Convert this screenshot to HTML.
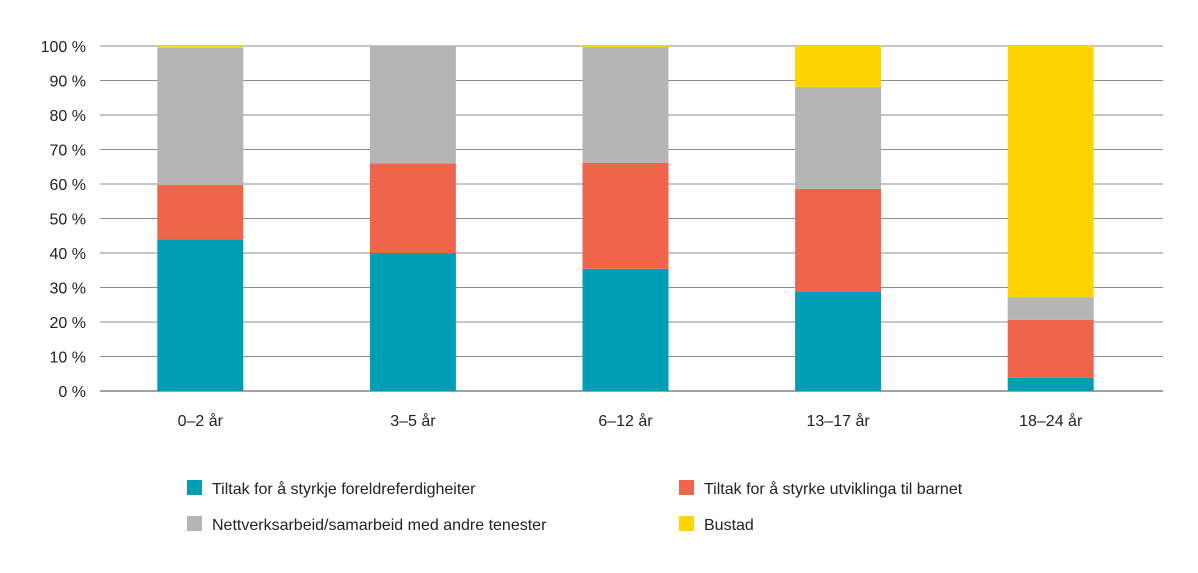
<!DOCTYPE html>
<html><head><meta charset="utf-8"><style>
body{margin:0;background:#fff;font-family:"Liberation Sans",sans-serif;}
svg text{font-family:"Liberation Sans",sans-serif;font-size:16px;fill:#222;}
</style></head><body>
<svg width="1198" height="568">
<g id="grid"></g>
<g id="bars"></g>
<g id="axes"></g>
<g>
 <g><rect x="187" y="480" width="15" height="15" fill="#009eb5"/><text x="212" y="494">Tiltak for å styrkje foreldreferdigheiter</text></g>
 <g><rect x="679" y="480" width="15" height="15" fill="#ee654c"/><text x="704" y="494">Tiltak for å styrke utviklinga til barnet</text></g>
 <g><rect x="187" y="516" width="15" height="15" fill="#b5b5b5"/><text x="212" y="530">Nettverksarbeid/samarbeid med andre tenester</text></g>
 <g><rect x="679" y="516" width="15" height="15" fill="#ffd400"/><text x="704" y="530">Bustad</text></g>
</g>
</svg>
<script>
const categories=["0–2 år","3–5 år","6–12 år","13–17 år","18–24 år"];
const foreldre=[44,40,35.4,28.7,3.8];
const utvikling=[15.7,26,30.7,29.9,16.8];
const nettverk=[39.8,34,33.6,29.5,6.6];
const bustad=[0.5,0,0.3,11.9,72.8];
const yTicks=[0,10,20,30,40,50,60,70,80,90,100];
const series=[foreldre,utvikling,nettverk,bustad];
const colors=["#009eb5","#ee654c","#b5b5b5","#ffd400"];
const names=["foreldre","utvikling","nettverk","bustad"];
const ns="http://www.w3.org/2000/svg";
const x0=100,x1=1163,yB=391,yT=46;
const y=v=>yB-(yT-yB)*-v/100;
const band=(x1-x0)/categories.length;
const xc=i=>x0+band*(i+0.5)-6;
const bw=86;
function mk(t,a,p){const e=document.createElementNS(ns,t);for(const k in a)e.setAttribute(k,a[k]);p.appendChild(e);return e;}
const grid=document.getElementById('grid'),bars=document.getElementById('bars'),axes=document.getElementById('axes');
yTicks.forEach(t=>{
 const l=mk('line',{x1:x0,x2:x1,y1:y(t),y2:y(t),stroke:t===0?'#444':'#666','stroke-width':t===0?1:0.8},grid);
 
 
 const tx=mk('text',{x:86,y:y(t)+6,'text-anchor':'end'},axes);
 tx.textContent=t+' %';
 
 
});
categories.forEach((c,i)=>{
 let acc=0;
 series.forEach((s,j)=>{
  const v=s[i]; if(v<=0){return;}
  const r=mk('rect',{x:xc(i)-bw/2,y:y(acc+v),width:bw,height:y(acc)-y(acc+v),fill:colors[j]},bars);
  
  
  acc+=v;
 });
 const tx=mk('text',{x:xc(i),y:426,'text-anchor':'middle'},axes);
 tx.textContent=c;
 
 
});
</script>
</body></html>
